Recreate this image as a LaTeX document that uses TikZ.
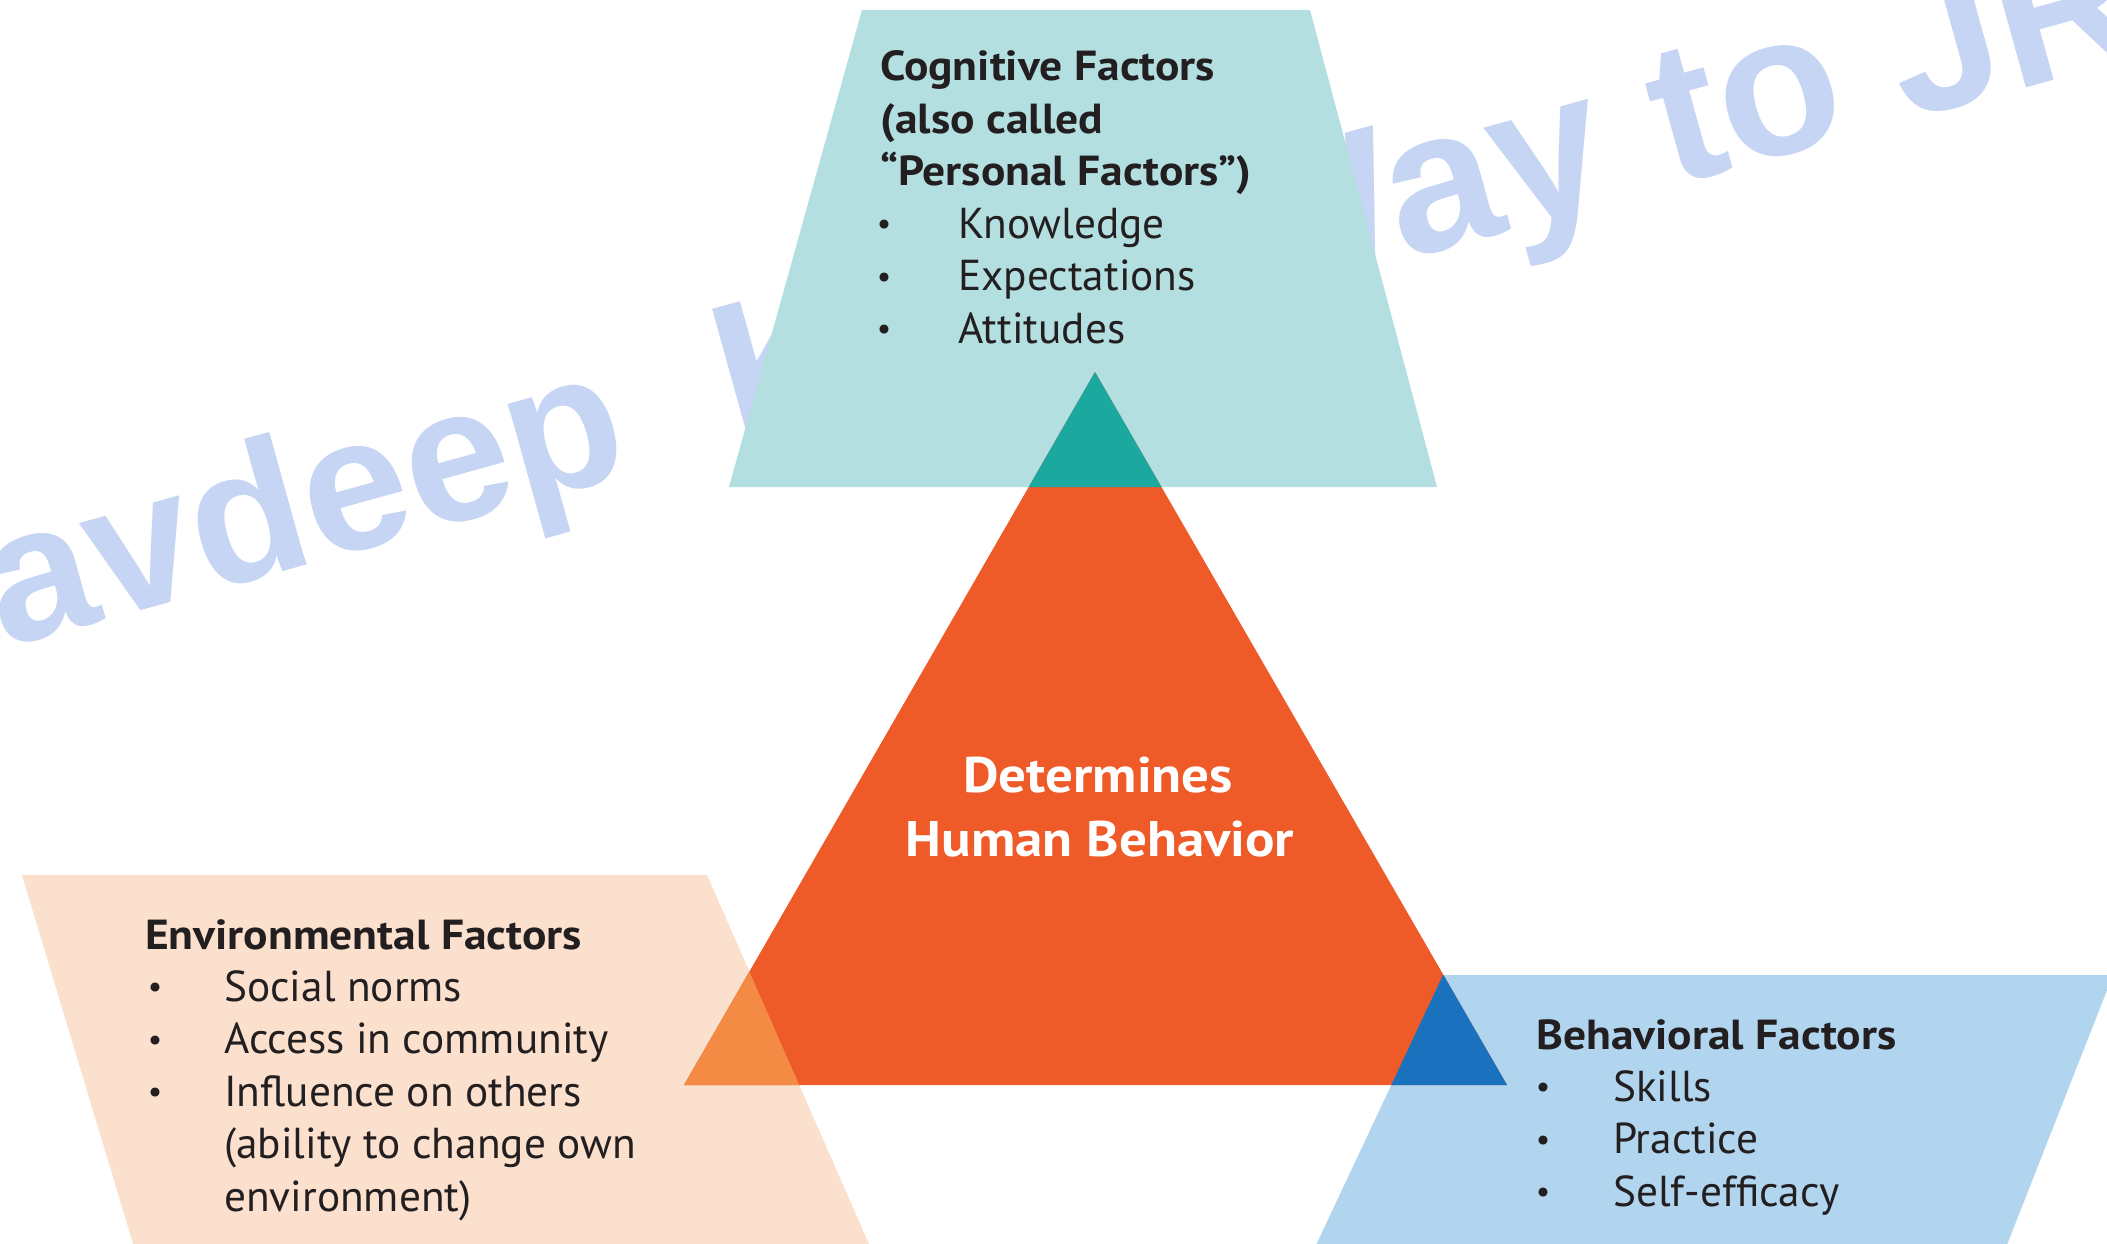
\documentclass[tikz,border=0pt]{standalone}
\usepackage{fontspec}
\setmainfont{PT Sans}
\newfontfamily\headfont[FakeStretch=1.085]{PT Sans}
\newfontfamily\centerfont[FakeStretch=1.1]{PT Sans}
\newfontfamily\wmfont{Liberation Sans}
\definecolor{cyanbox}{HTML}{B3DFE1}
\definecolor{tealcorner}{HTML}{1BA89F}
\definecolor{orangetri}{HTML}{EF5A29}
\definecolor{orangecorner}{HTML}{F38B45}
\definecolor{peachbox}{HTML}{FAE0CD}
\definecolor{bluebox}{HTML}{B1D5EF}
\definecolor{bluecorner}{HTML}{1A72BE}
\definecolor{wmcol}{HTML}{C5D5F3}
\definecolor{txt}{HTML}{231F20}
\begin{document}
\begin{tikzpicture}[x=1pt,y=-1pt,
  itemtxt/.style={anchor=base west, inner sep=0pt, text=txt, font=\fontsize{43.3}{50}\selectfont},
  headtxt/.style={anchor=base west, inner sep=0pt, text=txt, font=\fontsize{42}{50}\selectfont\headfont\bfseries},
  bullettxt/.style={anchor=base, inner sep=0pt, text=txt, font=\fontsize{32}{40}\selectfont},
  centertxt/.style={anchor=base, inner sep=0pt, text=white, font=\fontsize{50}{60}\selectfont\centerfont\bfseries},
  wmtxt/.style={inner sep=0pt, text=wmcol, font=\fontsize{#1}{#1}\selectfont\wmfont\bfseries}]
\useasboundingbox (0,0) rectangle (2107,1244);
\clip (0,0) rectangle (2107,1244);
\fill[white] (0,0) rectangle (2107,1244);

% watermark
\node[wmtxt=190, rotate=15.5, anchor=base east] (wma) at (635,473.5) {Navdeep};
\node[wmtxt=200, rotate=15.5, anchor=base west] (wmb) at (736,445.5) {Kaur Way to JRF};

% shapes
\fill[cyanbox] (862,10) -- (1310,10) -- (1437,487) -- (729,487) -- cycle;
\fill[peachbox] (22,875) -- (707,875) -- (876,1260) -- (138,1260) -- cycle;
\fill[bluebox] (1443,975) -- (2113,975) -- (2001,1260) -- (1309,1260) -- cycle;
\fill[orangetri] (1095,372) -- (1507,1085) -- (684,1085) -- cycle;

% overlaps
\begin{scope}
  \clip (1095,372) -- (1507,1085) -- (684,1085) -- cycle;
  \fill[tealcorner] (862,10) -- (1310,10) -- (1437,487) -- (729,487) -- cycle;
  \fill[orangecorner] (22,875) -- (707,875) -- (876,1260) -- (138,1260) -- cycle;
  \fill[bluecorner] (1443,975) -- (2113,975) -- (2001,1260) -- (1309,1260) -- cycle;
\end{scope}

% cognitive
\node[headtxt] (cog1) at (880,81) {Cognitive Factors};
\node[headtxt] (cog2) at (880,133.4) {(also called};
\node[headtxt] (cog3) at (880,185.8) {“Personal Factors”)};
\node[bullettxt] (cogb1) at (884,234.7) {•};
\node[itemtxt] (cogi1) at (958,238.2) {Knowledge};
\node[bullettxt] (cogb2) at (884,287.1) {•};
\node[itemtxt] (cogi2) at (958,290.6) {Expectations};
\node[bullettxt] (cogb3) at (884,339.5) {•};
\node[itemtxt] (cogi3) at (958,343) {Attitudes};

% centre
\node[centertxt] (cen1) at (1098,792) {Determines};
\node[centertxt] (cen2) at (1100,856) {Human Behavior};

% environmental
\node[headtxt] (env1) at (145,949) {Environmental Factors};
\node[bullettxt] (envb1) at (155,997.9) {•};
\node[itemtxt] (envi1) at (224,1001.4) {Social norms};
\node[bullettxt] (envb2) at (155,1050.3) {•};
\node[itemtxt] (envi2) at (224,1053.8) {Access in community};
\node[bullettxt] (envb3) at (155,1102.7) {•};
\node[itemtxt] (envi3) at (224,1106.2) {Influence on others};
\node[itemtxt] (envi4) at (224,1158.6) {(ability to change own};
\node[itemtxt] (envi5) at (224,1211) {environment)};

% behavioral
\node[headtxt] (beh1) at (1536,1049) {Behavioral Factors};
\node[bullettxt] (behb1) at (1543,1097.9) {•};
\node[itemtxt] (behi1) at (1613,1101.4) {Skills};
\node[bullettxt] (behb2) at (1543,1150.3) {•};
\node[itemtxt] (behi2) at (1613,1153.8) {Practice};
\node[bullettxt] (behb3) at (1543,1202.7) {•};
\node[itemtxt] (behi3) at (1613,1206.2) {Self-efficacy};
\end{tikzpicture}
\end{document}
